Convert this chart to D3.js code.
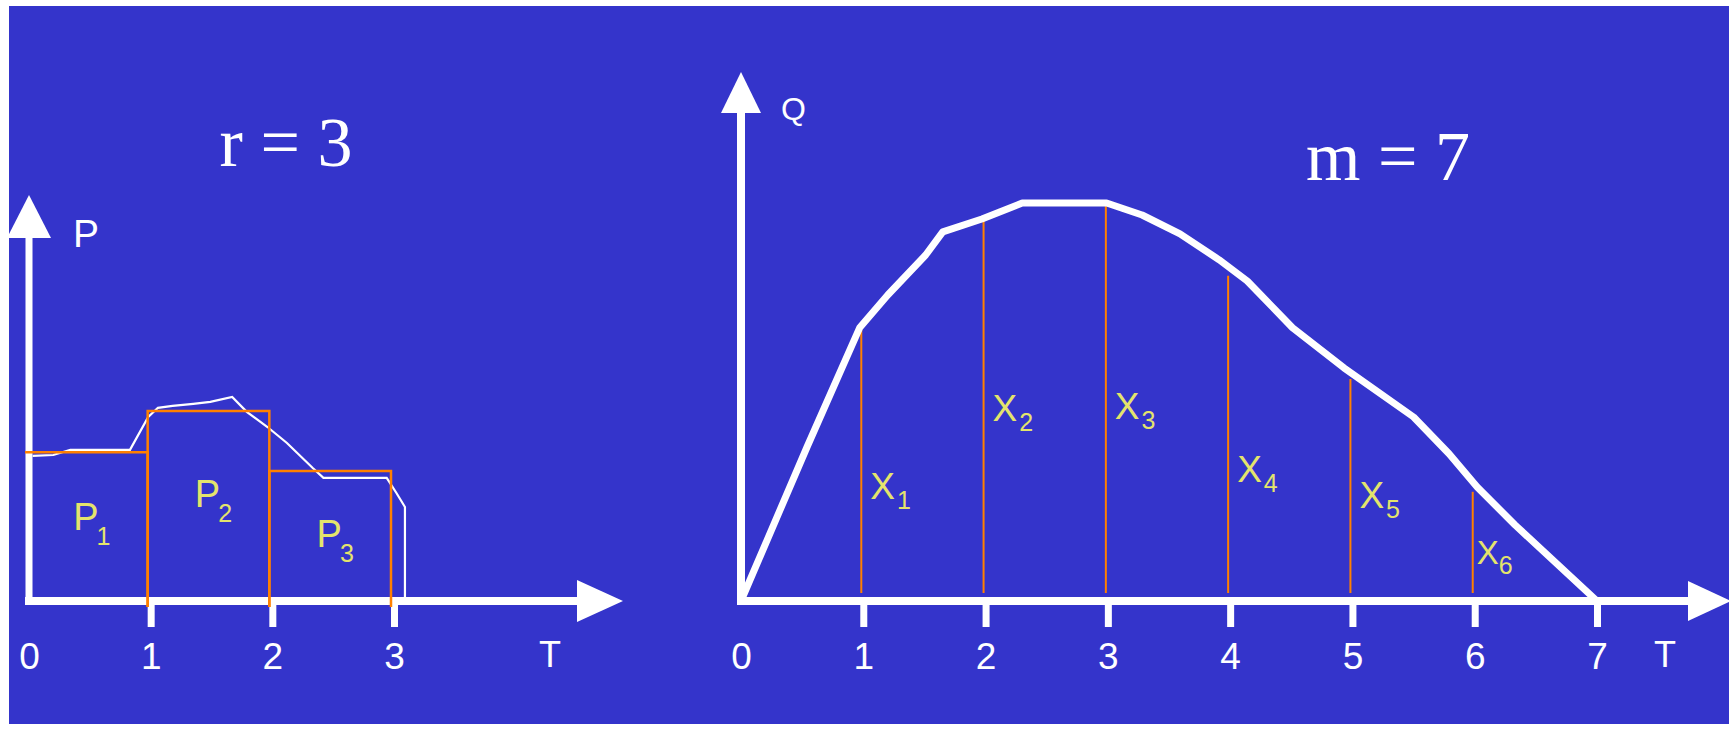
<!DOCTYPE html>
<html>
<head>
<meta charset="utf-8">
<script src="https://cdn.jsdelivr.net/npm/d3@7"></script>
<style>
    body { margin: 0; background: #fff; }
    svg { display: block; }
</style>
</head>
<body>
<div id="chart"></div>
<script>
// ---- left panel: r = 3 periods ----
const periodTicks = [0, 1, 2, 3]
const periodNames = ['1', '2', '3']
const periodValues = [3.72, 4.75, 3.25]           // P1..P3 (step heights)
const demandT = [0.03, 0.2, 0.34, 0.83, 0.98, 1.06, 1.18, 1.35, 1.49, 1.67, 1.79, 1.96, 2.12, 2.33, 2.42, 2.94, 3.02, 3.09, 3.09]
const demandP = [3.63, 3.65, 3.78, 3.78, 4.6, 4.83, 4.88, 4.93, 4.98, 5.1, 4.73, 4.35, 3.95, 3.33, 3.08, 3.08, 2.7, 2.35, 0]

// ---- right panel: m = 7 steps ----
const stepTicks = [0, 1, 2, 3, 4, 5, 6, 7]
const stepNames = ['1', '2', '3', '4', '5', '6']
const stepValues = [6.78, 9.58, 9.88, 8.13, 5.55, 2.73]   // X1..X6
const flowT = [0, 0.54, 0.97, 1.2, 1.51, 1.65, 1.97, 2.3, 2.99, 3.28, 3.59, 3.91, 4.14, 4.51, 4.93, 5.5, 5.79, 6.02, 6.33, 7]
const flowQ = [0, 3.85, 6.83, 7.65, 8.65, 9.23, 9.55, 9.95, 9.95, 9.65, 9.18, 8.53, 8.0, 6.83, 5.83, 4.6, 3.68, 2.85, 1.9, 0]

const BG = '#3434cb'
const ORANGE = '#ff8000'
const YELLOW = '#e4e46c'
const SANS = 'Liberation Sans, Arial, sans-serif'
const SERIF = 'Liberation Serif, Times New Roman, serif'

const W = 1735, H = 733

const svg = d3.select('#chart').append('svg')
    .attr('width', W)
    .attr('height', H)

svg.append('rect')
    .attr('x', 9).attr('y', 6)
    .attr('width', 1720).attr('height', 718)
    .attr('fill', BG)

// scales
const xL = d3.scaleLinear().domain([0, 3]).range([29, 394])
const yL = d3.scaleLinear().domain([0, 10]).range([601, 201])
const xR = d3.scaleLinear().domain([0, 7]).range([741, 1597])
const yR = d3.scaleLinear().domain([0, 10]).range([601, 201])

const line = (xs, ys) => d3.line()
    .x(d => xs(d[0]))
    .y(d => ys(d[1]))

// arrow heads
function arrowUp(g, x, tipY, len, half) {
    g.append('path')
        .attr('d', `M${x},${tipY} L${x + half},${tipY + len} L${x - half},${tipY + len} Z`)
        .attr('fill', '#fff')
}
function arrowRight(g, tipX, y, len, half) {
    g.append('path')
        .attr('d', `M${tipX},${y} L${tipX - len},${y - half} L${tipX - len},${y + half} Z`)
        .attr('fill', '#fff')
}

function drawAxes(g, xs, ys, ticks, yTip, xTip, yArrow, xArrow, stroke) {
    const x0 = xs(0), y0 = ys(0)
    // y shaft + head
    g.append('line')
        .attr('x1', x0).attr('x2', x0)
        .attr('y1', y0 + 4).attr('y2', yTip + yArrow[0] - 1)
        .attr('stroke', '#fff').attr('stroke-width', stroke)
    arrowUp(g, x0, yTip, yArrow[0], yArrow[1])
    // x shaft + head
    g.append('line')
        .attr('x1', x0 - 4).attr('x2', xTip - xArrow[0] + 1)
        .attr('y1', y0).attr('y2', y0)
        .attr('stroke', '#fff').attr('stroke-width', 8)
    arrowRight(g, xTip, y0, xArrow[0], xArrow[1])

    const axis = d3.axisBottom(xs)
        .tickValues(ticks)
        .tickFormat(d3.format('d'))
        .tickSize(26)
        .tickPadding(16)
    const ag = g.append('g')
        .attr('transform', `translate(0,${y0})`)
        .call(axis)
        .call(a => a.select('.domain').remove())
    ag.selectAll('.tick line')
        .attr('stroke', '#fff')
        .attr('stroke-width', 7)
        .attr('display', d => d === 0 ? 'none' : null)
    ag.selectAll('.tick text')
        .attr('fill', '#fff')
        .style('font-family', SANS)
        .style('font-size', '37px')
    return ag
}

// ---------------- left panel ----------------
const left = svg.append('g')

drawAxes(left, xL, yL, periodTicks, 195, 623, [43, 22], [46, 21], 7)

// actual demand (thin white trace)
left.append('path')
    .datum(d3.zip(demandT, demandP))
    .attr('d', line(xL, yL))
    .attr('fill', 'none')
    .attr('stroke', '#fff')
    .attr('stroke-width', 2.2)

// period steps (orange)
const stepBottom = yL(0) + 6
left.selectAll('.period')
    .data(periodValues)
    .join('path')
    .attr('class', 'period')
    .attr('d', (d, i) => {
        const xb = xL(i + 1) - 3
        if (i === 0) return `M${xL(0) - 4},${yL(d)} H${xb} V${stepBottom}`
        return `M${xL(i) - 3},${stepBottom} V${yL(d)} H${xb} V${stepBottom}`
    })
    .attr('fill', 'none')
    .attr('stroke', ORANGE)
    .attr('stroke-width', 2.5)

// P labels
const pLift = [1.78, 2.35, 1.35]
left.selectAll('.plabel')
    .data(periodNames)
    .join('text')
    .attr('class', 'plabel')
    .attr('x', (d, i) => (xL(i) + xL(i + 1)) / 2 + 2)
    .attr('y', (d, i) => yL(pLift[i]))
    .attr('text-anchor', 'middle')
    .attr('fill', YELLOW)
    .style('font-family', SANS)
    .style('font-size', '38px')
    .call(t => t.append('tspan').text('P'))
    .call(t => t.append('tspan')
        .attr('dx', -2)
        .attr('dy', 15)
        .style('font-size', '25px')
        .text(d => d))

left.append('text')
    .attr('x', 73).attr('y', 247)
    .attr('fill', '#fff')
    .style('font-family', SANS)
    .style('font-size', '39px')
    .text('P')

left.append('text')
    .attr('x', 550).attr('y', 667)
    .attr('text-anchor', 'middle')
    .attr('fill', '#fff')
    .style('font-family', SANS)
    .style('font-size', '36px')
    .text('T')

left.append('text')
    .attr('x', 286).attr('y', 166)
    .attr('text-anchor', 'middle')
    .attr('fill', '#fff')
    .style('font-family', SERIF)
    .style('font-size', '70px')
    .text('r = 3')

// ---------------- right panel ----------------
const right = svg.append('g')

// X step lines (orange), behind the curve
right.selectAll('.xstep')
    .data(stepValues)
    .join('line')
    .attr('class', 'xstep')
    .attr('x1', (d, i) => xR(i + 1) - 2)
    .attr('x2', (d, i) => xR(i + 1) - 2)
    .attr('y1', yR(0) - 8)
    .attr('y2', d => yR(d))
    .attr('stroke', ORANGE)
    .attr('stroke-width', 2)

drawAxes(right, xR, yR, stepTicks, 72, 1731, [41, 20], [43, 20], 8)

right.append('path')
    .datum(d3.zip(flowT, flowQ))
    .attr('d', line(xR, yR))
    .attr('fill', 'none')
    .attr('stroke', '#fff')
    .attr('stroke-width', 7)
    .attr('stroke-linejoin', 'round')

// X labels
const xLift = [2.55, 4.5, 4.55, 2.98, 2.33, 0.93]
right.selectAll('.xlabel')
    .data(stepNames)
    .join('text')
    .attr('class', 'xlabel')
    .attr('x', (d, i) => xR(i + 1) + (i === 5 ? 2 : 7))
    .attr('y', (d, i) => yR(xLift[i]))
    .attr('fill', YELLOW)
    .style('font-family', SANS)
    .style('font-size', (d, i) => i === 5 ? '33px' : '37px')
    .call(t => t.append('tspan').text('X'))
    .call(t => t.append('tspan')
        .attr('dx', (d, i) => i === 5 ? 0 : 2)
        .attr('dy', 10)
        .style('font-size', '25px')
        .text(d => d))

right.append('text')
    .attr('x', 781).attr('y', 120)
    .attr('fill', '#fff')
    .style('font-family', SANS)
    .style('font-size', '32px')
    .text('Q')

right.append('text')
    .attr('x', 1665).attr('y', 667)
    .attr('text-anchor', 'middle')
    .attr('fill', '#fff')
    .style('font-family', SANS)
    .style('font-size', '36px')
    .text('T')

right.append('text')
    .attr('x', 1388).attr('y', 180)
    .attr('text-anchor', 'middle')
    .attr('fill', '#fff')
    .style('font-family', SERIF)
    .style('font-size', '70px')
    .text('m = 7')
</script>
</body>
</html>
